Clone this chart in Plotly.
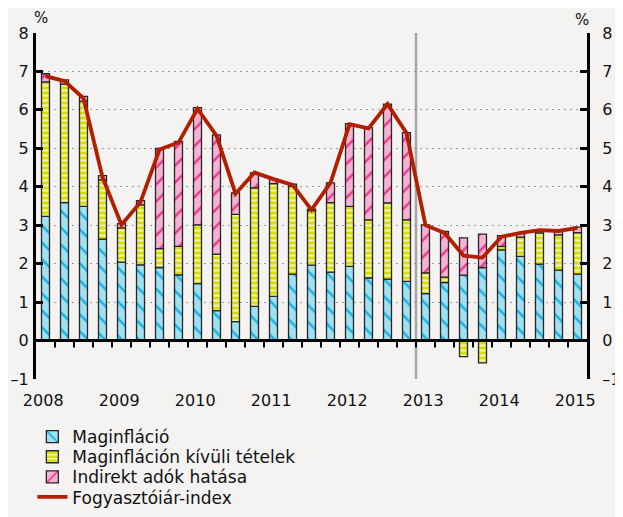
import plotly.graph_objects as go

# ---- data (2008 Q1 .. 2015 Q1) ----
quarters = list(range(29))
year_labels = ["2008", "2009", "2010", "2011", "2012", "2013", "2014", "2015"]
core = [3.23, 3.59, 3.49, 2.64, 2.04, 1.97, 1.90, 1.71, 1.48, 0.78, 0.49, 0.89, 1.15, 1.73, 1.96,
        1.78, 1.93, 1.63, 1.60, 1.54, 1.22, 1.51, 1.70, 1.90, 2.36, 2.19, 1.99, 1.83, 1.73]
noncore = [3.50, 3.08, 2.73, 1.54, 0.89, 1.56, 0.49, 0.74, 1.53, 1.47, 2.79, 3.08, 2.93, 2.28, 1.42,
           1.81, 1.56, 1.51, 1.98, 1.60, 0.54, 0.14, -0.42, -0.58, 0.09, 0.50, 0.81, 0.92, 1.08]
indirect = [0.21, 0.11, 0.13, 0.11, 0.11, 0.11, 2.61, 2.73, 3.05, 3.10, 0.56, 0.39, 0.13, 0.06, 0.04,
            0.51, 2.15, 2.40, 2.57, 2.27, 1.25, 1.19, 0.97, 0.87, 0.28, 0.09, 0.07, 0.11, 0.14]
cpi = [6.88, 6.75, 6.30, 4.25, 3.01, 3.60, 4.97, 5.15, 6.03, 5.33, 3.82, 4.37, 4.20, 4.05, 3.40,
       4.10, 5.63, 5.52, 6.15, 5.40, 3.00, 2.80, 2.21, 2.16, 2.70, 2.80, 2.87, 2.85, 2.93]
y_ticks = [-1, 0, 1, 2, 3, 4, 5, 6, 7, 8]
y_tick_labels = ["–1", "0", "1", "2", "3", "4", "5", "6", "7", "8"]

FONT = "DejaVu Sans"
BG = "#f4f3f1"
OUTLINE = dict(color="#262626", width=1.3)
BW = 0.42

fig = go.Figure()
fig.add_trace(go.Bar(
    x=quarters, y=core, name="Maginfláció", width=BW, legend="legend",
    marker=dict(color="#9fe0f3", line=OUTLINE,
                pattern=dict(shape="\\", fgcolor="#17b2e0", bgcolor="#9fe0f3", size=12, solidity=0.2)),
))
fig.add_trace(go.Bar(
    x=quarters, y=noncore, name="Maginfláción kívüli tételek", width=BW, legend="legend2",
    marker=dict(color="#d4de00", line=OUTLINE,
                pattern=dict(shape="-", fgcolor="#f1f2a6", bgcolor="#d4de00", size=5, solidity=0.45)),
))
fig.add_trace(go.Bar(
    x=quarters, y=indirect, name="Indirekt adók hatása", width=BW, legend="legend3",
    marker=dict(color="#f6b2d2", line=OUTLINE,
                pattern=dict(shape="/", fgcolor="#e8388f", bgcolor="#f6b2d2", size=12, solidity=0.2)),
))
fig.add_trace(go.Scatter(
    x=quarters, y=cpi, name="Fogyasztóiár-index", mode="lines", legend="legend4",
    xaxis="x", yaxis="y2",
    line=dict(color="#b21f00", width=3.8),
))

xr = [-0.5, 28.5]
yr = [-1, 8]
yax_common = dict(range=yr, tickvals=y_ticks, ticktext=y_tick_labels, ticks="inside", ticklen=7,
                  tickwidth=2.5, tickcolor="#000", showline=True, linecolor="#000", linewidth=3,
                  zeroline=False, automargin=False,
                  tickfont=dict(family=FONT, size=16, color="#111"))

legend_common = dict(x=-0.0066, xanchor="left", yanchor="middle", bgcolor="rgba(0,0,0,0)",
                     font=dict(family=FONT, size=17, color="#111"), borderwidth=0)

# decorative tick marks hanging below the zero line, between quarters
zero_ticks = [dict(type="line", xref="x", yref="y", ysizemode="pixel", yanchor=0,
                   x0=q + 0.5, x1=q + 0.5, y0=0, y1=-7,
                   line=dict(color="#000", width=2), layer="above")
              for q in quarters[:-1]]

fig.update_layout(
    template="none",
    width=623, height=517,
    # the page body adds an 8px offset, so margins are reduced by 8 on the left/top
    margin=dict(l=28, r=44, t=25, b=146, autoexpand=False),
    paper_bgcolor=BG, plot_bgcolor=BG,
    barmode="relative",
    font=dict(family=FONT, size=16, color="#111"),
    xaxis=dict(range=xr, tickvals=[4 * k - 0.12 for k in range(len(year_labels))], ticktext=year_labels,
               ticks="", showline=False, showgrid=False, zeroline=False, ticklabelstandoff=10,
               automargin=False, tickfont=dict(family=FONT, size=16, color="#111")),
    yaxis=dict(**yax_common, showgrid=True, gridcolor="#9a9a9a", gridwidth=1.2, griddash="2px,4px",
               ticklabelstandoff=1),
    yaxis2=dict(**yax_common, overlaying="y", side="right", anchor="x", showgrid=False,
                ticklabelstandoff=9),
    showlegend=True,
    legend=dict(**legend_common, y=-0.168),
    legend2=dict(**legend_common, y=-0.226),
    legend3=dict(**legend_common, y=-0.284),
    legend4=dict(**legend_common, y=-0.342),
    shapes=[dict(type="line", xref="x", yref="y", x0=19.5, x1=19.5, y0=yr[0], y1=yr[1],
                 line=dict(color="#a6a6a6", width=2.5), layer="below"),
            dict(type="line", xref="paper", yref="y", x0=0, x1=1, y0=0, y1=0,
                 line=dict(color="#000", width=3), layer="above")] + zero_ticks,
    annotations=[
        dict(text="%", xref="paper", yref="paper", x=0.009, y=1.043, xanchor="center", yanchor="middle",
             showarrow=False, font=dict(family=FONT, size=15, color="#111")),
        dict(text="%", xref="paper", yref="paper", x=0.991, y=1.038, xanchor="center", yanchor="middle",
             showarrow=False, font=dict(family=FONT, size=15, color="#111")),
    ],
)

fig.write_html("out.html")
